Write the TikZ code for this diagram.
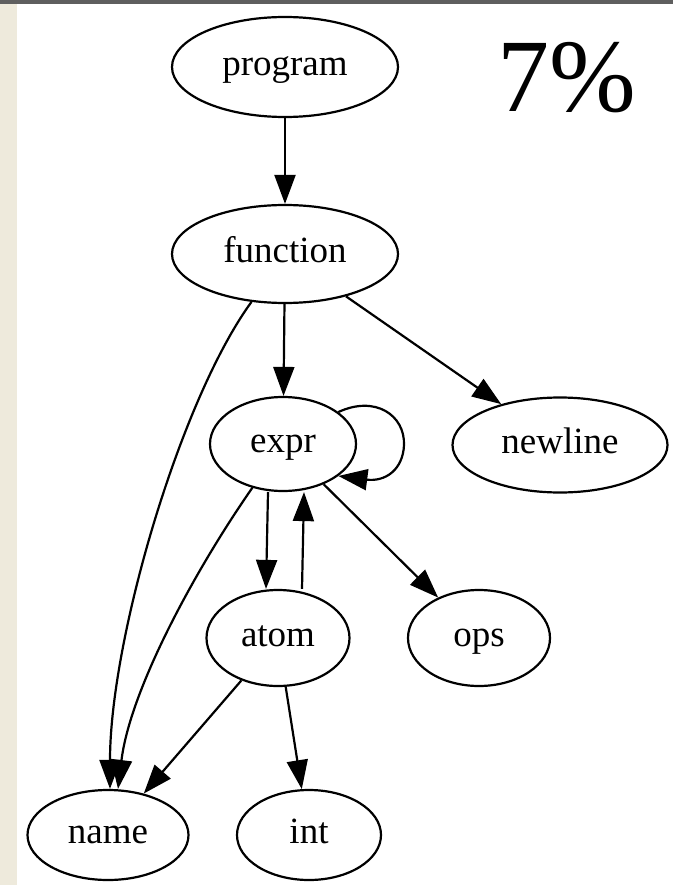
\documentclass[tikz,border=0pt]{standalone}
\usepackage{fontspec}
\setmainfont{Liberation Serif}
\usetikzlibrary{shapes.geometric,arrows.meta}
\definecolor{paper}{RGB}{238,234,220}
\definecolor{rim}{RGB}{95,95,95}
\begin{document}
\begin{tikzpicture}[>={Triangle[length=29pt,width=21pt]},x=1pt,y=-1pt,line width=2.2pt,
    every node/.style={font=\fontsize{37}{40}\selectfont},
    state/.style={draw,ellipse,inner sep=0pt,minimum height=96pt,text height=25pt,text depth=8pt}]
    \useasboundingbox (0,0) rectangle (673,885);
    \fill[white] (0,0) rectangle (673,885);
    \fill[paper] (0,0) rectangle (17,885);
    \fill[rim] (0,0) rectangle (673,4);
    % grammar nodes
    \node[state,minimum width=226pt,minimum height=100pt] (program) at (285,67) {program};
    \node[state,minimum width=226pt,minimum height=98pt] (function) at (285,254) {function};
    \node[state,minimum width=146pt,minimum height=94pt] (expr) at (283,444) {expr};
    \node[state,minimum width=215pt,minimum height=95pt] (newline) at (560,445) {newline};
    \node[state,minimum width=143pt] (atom) at (278,638) {atom};
    \node[state,minimum width=142pt] (ops) at (479,638) {ops};
    \node[state,minimum width=161pt,minimum height=90pt] (name) at (108,835) {name};
    \node[state,minimum width=144pt,minimum height=90pt] (int) at (309,835) {int};
    \node (pct) at (567,78) {\fontsize{104}{104}\selectfont 7\%};
    % edges
    \draw[->] (program) -- (function);
    \draw[->] (function) -- (expr);
    \draw[->] (function) -- (newline);
    \draw[->] (function.235) .. controls (180,400) and (110,640) .. ([xshift=2pt]name.north);
    \draw[->] (expr.235) .. controls (195,570) and (130,690) .. ([xshift=10pt]name.north);
    \draw[->] (expr.30) .. controls (375,395) and (405,415) .. (404,445)
        .. controls (403,470) and (385,482) .. (expr.-30);
    \draw[->] ([xshift=-15pt]expr.south) -- ([xshift=-12pt]atom.north);
    \draw[->] ([xshift=24pt]atom.north) -- ([xshift=21pt]expr.south);
    \draw[->] (expr) -- (ops);
    \draw[->] (atom) -- (name);
    \draw[->] (atom) -- (int);
\end{tikzpicture}
\end{document}
